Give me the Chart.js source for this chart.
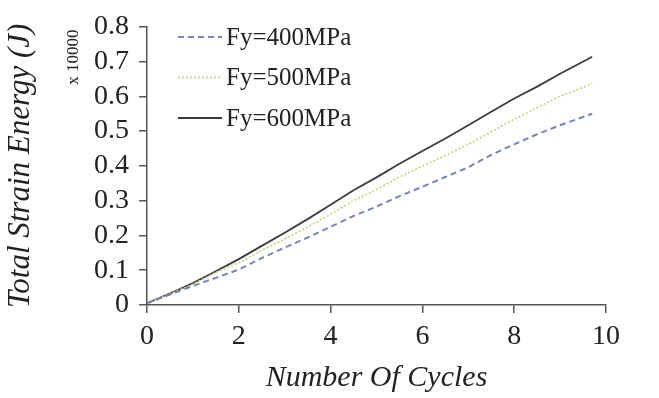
<!DOCTYPE html>
<html>
<head>
<meta charset="utf-8">
<script src="https://cdn.jsdelivr.net/npm/chart.js@4.4.1/dist/chart.umd.min.js"></script>
<style>
  body { margin: 0; background: #fff; }
  canvas { display: block; }
</style>
</head>
<body>
<canvas id="chart" width="659" height="398"></canvas>
<script>
// values (energy in units of 10000 J)
const cycles = [0, 0.5, 1, 1.5, 2, 2.5, 3, 3.5, 4, 4.5, 5, 5.5, 6, 6.5, 7, 7.5, 8, 8.5, 9, 9.7];
const fy400 = [0.005, 0.030, 0.055, 0.078, 0.102, 0.135, 0.165, 0.194, 0.225, 0.256, 0.283, 0.313, 0.340, 0.368, 0.396, 0.432, 0.462, 0.491, 0.517, 0.550];
const fy500 = [0.005, 0.032, 0.060, 0.094, 0.121, 0.157, 0.190, 0.224, 0.261, 0.300, 0.332, 0.368, 0.400, 0.430, 0.462, 0.498, 0.534, 0.568, 0.600, 0.636];
const fy600 = [0.005, 0.033, 0.063, 0.097, 0.132, 0.170, 0.208, 0.247, 0.288, 0.330, 0.367, 0.406, 0.443, 0.479, 0.517, 0.556, 0.594, 0.628, 0.665, 0.714];
const labels = ["Fy=400MPa", "Fy=500MPa", "Fy=600MPa"];
const xTicks = [0, 2, 4, 6, 8, 10];
const yTicks = [0, 0.1, 0.2, 0.3, 0.4, 0.5, 0.6, 0.7, 0.8];

const serif = "'Liberation Serif', 'Times New Roman', serif";
const axisColor = "#555";

function toPoints(ys) {
   return cycles.map((c, i) => ({ x: c, y: ys[i] }));
}

// legend drawn inside the plot, top left, plus the "x 10000" multiplier
const extras = {
   id: "extras",
   afterDatasetsDraw(chart) {
      const ctx = chart.ctx;
      ctx.save();
      chart.data.datasets.forEach((ds, i) => {
         const y = 37 + i * 40.5;
         ctx.beginPath();
         ctx.strokeStyle = ds.borderColor;
         ctx.lineWidth = ds.borderWidth;
         ctx.setLineDash(ds.borderDash || []);
         ctx.moveTo(178, y);
         ctx.lineTo(222, y);
         ctx.stroke();
         ctx.setLineDash([]);
         ctx.fillStyle = "#222";
         ctx.font = "25px " + serif;
         ctx.textBaseline = "middle";
         ctx.textAlign = "left";
         ctx.fillText(ds.label, 226, y + 1);
      });
      ctx.translate(74, 57);
      ctx.rotate(-Math.PI / 2);
      ctx.font = "17px " + serif;
      ctx.fillStyle = "#222";
      ctx.textAlign = "center";
      ctx.textBaseline = "middle";
      ctx.fillText("x 10000", 0, 0);
      ctx.restore();
   }
};

new Chart(document.getElementById("chart"), {
   type: "line",
   data: {
      datasets: [
         {
            label: labels[0],
            data: toPoints(fy400),
            borderColor: "#7884b8",
            borderWidth: 2,
            borderDash: [6, 4]
         },
         {
            label: labels[1],
            data: toPoints(fy500),
            borderColor: "#c8cf7c",
            borderWidth: 1.6,
            borderDash: [2, 2]
         },
         {
            label: labels[2],
            data: toPoints(fy600),
            borderColor: "#3c3c3c",
            borderWidth: 1.8
         }
      ]
   },
   options: {
      responsive: false,
      animation: false,
      events: [],
      layout: { padding: { top: 23, right: 53, left: 0, bottom: 0 } },
      elements: { point: { radius: 0 }, line: { tension: 0 } },
      plugins: { legend: { display: false }, tooltip: { enabled: false } },
      scales: {
         x: {
            type: "linear",
            min: 0,
            max: 10,
            afterBuildTicks: axis => { axis.ticks = xTicks.map(v => ({ value: v })); },
            ticks: { autoSkip: false, font: { family: serif, size: 28 }, color: "#222", padding: 7 },
            grid: { drawOnChartArea: false, tickLength: 8, color: axisColor, lineWidth: 1.5 },
            border: { color: axisColor, width: 1.5 },
            title: {
               display: true,
               text: "Number Of Cycles",
               font: { family: serif, size: 30, style: "italic" },
               color: "#222",
               padding: { top: 0, bottom: 2 }
            },
            afterFit: scale => { scale.height = 93; }
         },
         y: {
            min: 0,
            max: 0.8,
            afterBuildTicks: axis => { axis.ticks = yTicks.map(v => ({ value: v })); },
            ticks: { autoSkip: false, font: { family: serif, size: 28 }, color: "#222", padding: 10 },
            grid: { drawOnChartArea: false, tickLength: 8, color: axisColor, lineWidth: 1.5 },
            border: { color: axisColor, width: 1.5 },
            title: {
               display: true,
               text: "Total Strain Energy (J)",
               font: { family: serif, size: 31, style: "italic" },
               color: "#222",
               padding: { top: 2, bottom: 0 }
            },
            afterFit: scale => { scale.width = 147; }
         }
      }
   },
   plugins: [extras]
});
</script>
</body>
</html>
